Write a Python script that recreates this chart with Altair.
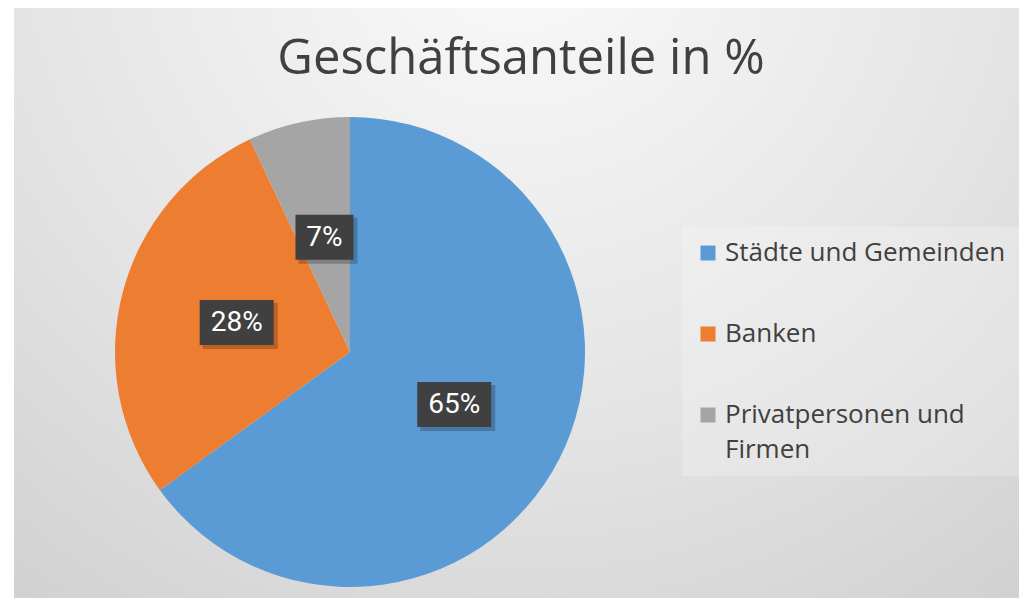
import altair as alt
import pandas as pd

# ---- data ----
categories = ["Städte und Gemeinden", "Banken", "Privatpersonen und Firmen"]
shares = [65, 28, 7]
colors = ["#5B9BD5", "#ED7D31", "#A5A5A5"]
title_text = ["Geschäftsanteile in %"]

df = pd.DataFrame({"kategorie": categories, "anteil": shares,
                   "idx": list(range(len(categories)))})

# ---- layout constants ----
W, H = 1005, 590
CX, CY, R = 336, 344, 235
LR = 117
TXT = "#404040"
FONT = "Open Sans"

bg = alt.Chart(pd.DataFrame({"k": [0]})).mark_rect(
    color=alt.RadialGradient(
        gradient="radial",
        stops=[alt.GradientStop(color="#fbfbfb", offset=0),
               alt.GradientStop(color="#e4e4e4", offset=0.5),
               alt.GradientStop(color="#c8c8c8", offset=1)],
        x1=0.5, y1=0.12, r1=0, x2=0.5, y2=0.12, r2=1.0)
).encode(x=alt.value(0), x2=alt.value(W), y=alt.value(0), y2=alt.value(H))

title = alt.Chart(pd.DataFrame({"t": title_text})).mark_text(
    font=FONT, fontSize=49, color=TXT, align="center", baseline="alphabetic"
).encode(x=alt.value(507), y=alt.value(66), text="t:N")

legend = alt.Legend(
    orient="none", legendX=668, legendY=219, title=None,
    symbolType="square", symbolSize=225, symbolStrokeWidth=0,
    labelFont=FONT, labelFontSize=26, labelColor=TXT, labelLimit=400,
    labelOffset=4, rowPadding=55, padding=13,
    fillColor="rgba(255,255,255,0.22)",
    labelExpr="datum.label == 'Privatpersonen und Firmen' ? ['Privatpersonen und', 'Firmen'] : datum.label",
)

pie = alt.Chart(df).mark_arc(outerRadius=R).encode(
    theta=alt.Theta("anteil:Q", stack=True),
    color=alt.Color("kategorie:N", sort=categories,
                    scale=alt.Scale(domain=categories, range=colors),
                    legend=legend),
    order=alt.Order("idx:Q"),
    x=alt.value(CX), y=alt.value(CY),
)

lab = alt.Chart(df).transform_joinaggregate(
    total="sum(anteil)"
).transform_window(
    cum="sum(anteil)", sort=[alt.SortField("idx")], frame=[None, 0]
).transform_calculate(
    mid="(datum.cum - datum.anteil/2) / datum.total * 2 * PI",
    lx=f"{CX} + {LR}*sin(datum.mid)",
    ly=f"{CY} - {LR}*cos(datum.mid)",
    txt="format(datum.anteil / datum.total, '.0%')",
    bw="16*length(datum.txt) + 26",
    bx1="datum.lx - datum.bw/2",
    bx2="datum.lx + datum.bw/2",
    by1="datum.ly - 23",
    by2="datum.ly + 22",
    sx1="datum.bx1 + 3",
    sx2="datum.bx2 + 4",
    sy1="datum.by1 + 3",
    sy2="datum.by2 + 4",
)

shadow = lab.mark_rect(color="#000000", opacity=0.22).encode(
    x=alt.X("sx1:Q", scale=None, axis=None), x2="sx2:Q",
    y=alt.Y("sy1:Q", scale=None, axis=None), y2="sy2:Q")

box = lab.mark_rect(color="#404040").encode(
    x=alt.X("bx1:Q", scale=None, axis=None), x2="bx2:Q",
    y=alt.Y("by1:Q", scale=None, axis=None), y2="by2:Q")

txt = lab.mark_text(font="Roboto", fontSize=28, color="white",
                    align="center", baseline="middle").encode(
    x=alt.X("lx:Q", scale=None, axis=None),
    y=alt.Y("ly:Q", scale=None, axis=None),
    text="txt:N")

chart = alt.layer(bg, title, pie, shadow, box, txt).properties(
    width=W, height=H,
    autosize=alt.AutoSizeParams(type="none"),
    padding={"left": 6, "top": 0, "right": 0, "bottom": 0},
    background="white",
).configure_view(stroke=None).configure(
    style={"guide-label": {"lineHeight": 35}}
)

chart.save("out.html", embed_options={"renderer": "svg", "actions": False})
